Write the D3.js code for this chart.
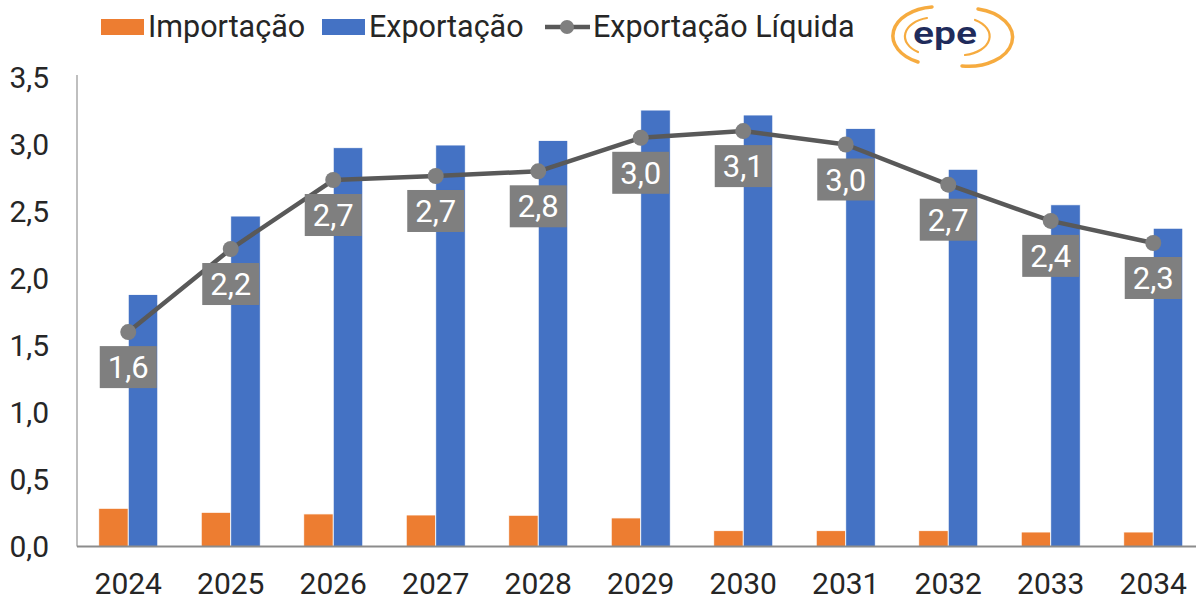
<!DOCTYPE html>
<html>
<head>
<meta charset="utf-8">
<script src="https://cdn.jsdelivr.net/npm/d3@7"></script>
<style>
  html, body { margin: 0; padding: 0; background: #fff; }
  svg { display: block; font-family: Roboto, "Liberation Sans", Arial, sans-serif; font-weight: 400; }
</style>
</head>
<body>
<svg id="chart" width="1196" height="600"></svg>
<script>
// ---- data ----
const years = ["2024","2025","2026","2027","2028","2029","2030","2031","2032","2033","2034"];
const importacao = [0.285, 0.255, 0.243, 0.235, 0.233, 0.213, 0.118, 0.118, 0.118, 0.108, 0.108];
const exportacao = [1.88, 2.466, 2.976, 2.996, 3.03, 3.257, 3.22, 3.12, 2.815, 2.55, 2.375];
const exportacaoLiquida = [1.60, 2.22, 2.735, 2.765, 2.80, 3.05, 3.10, 3.00, 2.70, 2.43, 2.265];
const liquidaLabels = ["1,6","2,2","2,7","2,7","2,8","3,0","3,1","3,0","2,7","2,4","2,3"];
const yTicks = [0, 0.5, 1.0, 1.5, 2.0, 2.5, 3.0, 3.5];
const seriesNames = ["Importação", "Exportação", "Exportação Líquida"];

// ---- styles ----
const colImp = "#ED7D31", colExp = "#4472C4", colLine = "#595959", colMarker = "#7F7F7F";
const txt = "#262626";
const svg = d3.select("#chart");

const x0 = d3.scaleBand().domain(years).range([77, 77 + 102.5 * 11]).padding(0);
const x1 = d3.scaleBand().domain(["imp", "exp"]).range([0, x0.bandwidth()]).paddingInner(0).paddingOuter(0.737);
const y = d3.scaleLinear().domain([0, 3.5]).range([546.5, 77.5]);

// bars
const g = svg.append("g");
years.forEach((yr, i) => {
  g.append("rect")
    .attr("x", x0(yr) + x1("imp")).attr("width", x1.bandwidth())
    .attr("y", y(importacao[i])).attr("height", y(0) - y(importacao[i]))
    .attr("fill", colImp).attr("stroke", "#fff").attr("stroke-width", 0.8);
  g.append("rect")
    .attr("x", x0(yr) + x1("exp")).attr("width", x1.bandwidth())
    .attr("y", y(exportacao[i])).attr("height", y(0) - y(exportacao[i]))
    .attr("fill", colExp).attr("stroke", "#fff").attr("stroke-width", 0.8);
});

// axes
svg.append("line").attr("x1", 77).attr("x2", 77).attr("y1", 75).attr("y2", y(0))
  .attr("stroke", "#BFBFBF").attr("stroke-width", 2);
svg.append("line").attr("x1", 77).attr("x2", 1196).attr("y1", y(0)).attr("y2", y(0))
  .attr("stroke", "#8C8C8C").attr("stroke-width", 2);

svg.append("g").selectAll("text").data(yTicks).join("text")
  .attr("x", 49).attr("y", d => y(d) + 10.5)
  .attr("text-anchor", "end").attr("font-size", 30).attr("fill", txt)
  .text(d => d3.format(".1f")(d).replace(".", ","));

svg.append("g").selectAll("text").data(years).join("text")
  .attr("x", d => x0(d) + x0.bandwidth() / 2).attr("y", 594)
  .attr("text-anchor", "middle").attr("font-size", 30).attr("fill", txt)
  .text(d => d);

// line
const cx = (d, i) => x0(years[i]) + x0.bandwidth() / 2;
svg.append("path").datum(exportacaoLiquida)
  .attr("d", d3.line().x(cx).y(d => y(d)))
  .attr("fill", "none").attr("stroke", colLine).attr("stroke-width", 4.5).attr("stroke-linejoin", "round");
svg.append("g").selectAll("circle").data(exportacaoLiquida).join("circle")
  .attr("cx", cx).attr("cy", d => y(d)).attr("r", 8).attr("fill", colMarker);

// data labels
const lbl = svg.append("g").selectAll("g").data(exportacaoLiquida).join("g")
  .attr("transform", (d, i) => `translate(${cx(d, i)},${y(d) + 14})`);
lbl.append("rect").attr("x", -28.5).attr("y", 0).attr("width", 57).attr("height", 42).attr("fill", "#7F7F7F");
lbl.append("text").attr("x", 0).attr("y", 32).attr("text-anchor", "middle")
  .attr("font-size", 31).attr("fill", "#fff").text((d, i) => liquidaLabels[i]);

// legend
const leg = svg.append("g");
leg.append("rect").attr("x", 101).attr("y", 19).attr("width", 43).attr("height", 16).attr("fill", colImp);
leg.append("text").attr("x", 148).attr("y", 37).attr("font-size", 30.5).attr("fill", txt).text(seriesNames[0]);
leg.append("rect").attr("x", 322).attr("y", 19).attr("width", 43).attr("height", 16).attr("fill", colExp);
leg.append("text").attr("x", 369).attr("y", 37).attr("font-size", 30.5).attr("fill", txt).text(seriesNames[1]);
leg.append("line").attr("x1", 545).attr("x2", 590).attr("y1", 27).attr("y2", 27).attr("stroke", colLine).attr("stroke-width", 4.5);
leg.append("circle").attr("cx", 567).attr("cy", 27).attr("r", 7).attr("fill", colMarker);
leg.append("text").attr("x", 593).attr("y", 37).attr("font-size", 30.5).attr("fill", txt).text(seriesNames[2]);

// logo
const logo = svg.append("g");
const arcs = [
  {d: "M 932 7 A 44 29 0 0 0 918 62", w: 3.5},
  {d: "M 927 18 A 30 19 0 0 0 918 52", w: 2.2},
  {d: "M 962 66 A 44 29 0 0 0 978 9", w: 3.5},
  {d: "M 965 55 A 30 19 0 0 0 975 20", w: 2.2}
];
arcs.forEach(a => logo.append("path").attr("d", a.d).attr("fill", "none")
  .attr("stroke", "#F5A22A").attr("stroke-width", a.w).attr("stroke-linecap", "round").attr("opacity", 0.9));
logo.append("text").attr("x", 945).attr("y", 44).attr("text-anchor", "middle")
  .attr("font-size", 31).attr("font-weight", 600).attr("fill", "#1F2B5B")
  .attr("textLength", 64).attr("lengthAdjust", "spacingAndGlyphs").text("epe");
</script>
</body>
</html>
